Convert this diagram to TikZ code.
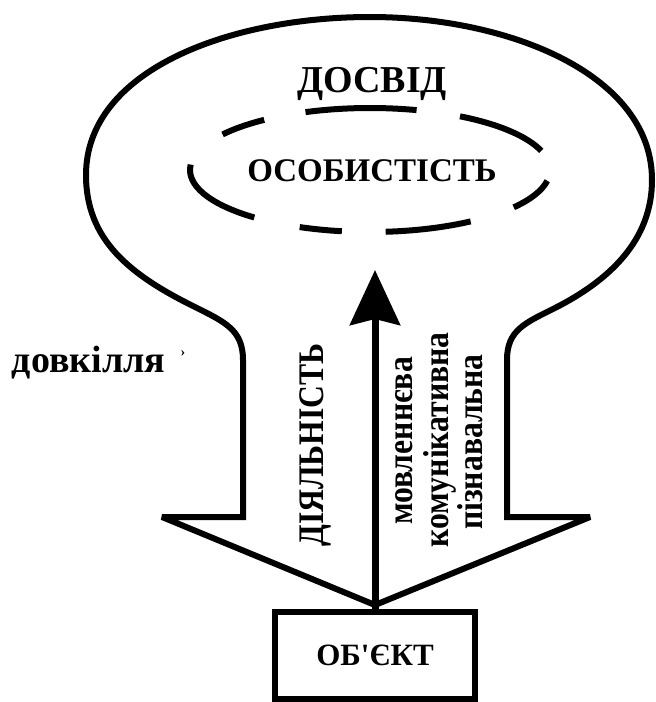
\documentclass[tikz,border=0pt]{standalone}
\usepackage{fontspec}
\setmainfont{Liberation Serif}
\newfontfamily\lsb{Liberation Serif Bold}
\newfontfamily\lsbc{Liberation Serif Bold}[FakeStretch=0.88]
\usetikzlibrary{arrows.meta}
\tikzset{
  outline/.style={line width=6pt},
  dashline/.style={line width=6pt},
  lbl/.style={inner sep=0pt,outer sep=0pt}}
\begin{document}
\begin{tikzpicture}[x=1pt,y=-1pt,line join=miter,miter limit=3]
\useasboundingbox (0,0) rectangle (656,702);
% bulb with fat arrow
\draw[outline] (162,517) -- (243,517) -- (243,360)
  .. controls (243,330) and (225,322) .. (195,307)
  .. controls (130,275) and (86,240) .. (86,175)
  .. controls (86,70) and (230,17) .. (370,17)
  .. controls (510,17) and (652,75) .. (652,180)
  .. controls (652,240) and (610,280) .. (555,308)
  .. controls (525,323) and (507,330) .. (507,360)
  -- (507,517) -- (590,517) -- (375,605) -- cycle;
% dashed ellipse
\foreach \a/\b in {75/111, 18/60, -37/-10, -85/-56, -113/-99, 175/230, 126/145}
  \draw[dashline] (370,170) ++(-\a:180 and 62) arc[start angle=-\a, end angle=-\b, x radius=180, y radius=62];
% texts
\node[lbl,anchor=base,font=\lsb\fontsize{38}{38}\selectfont] (dosvid) at (372,92) {ДОСВІД};
\node[lbl,anchor=base,font=\lsb\fontsize{33}{33}\selectfont] (pers) at (372,181) {ОСОБИСТІСТЬ};
\node[lbl,anchor=base west,font=\lsb\fontsize{38}{38}\selectfont] (env) at (12,372) {довкілля};
\node[lbl,anchor=base,font=\lsb\fontsize{14}{14}\selectfont] (mark) at (183,356) {›};
\node[lbl,rotate=90,anchor=base,font=\lsbc\fontsize{36}{36}\selectfont] (dial) at (323,445) {ДІЯЛЬНІСТЬ};
\node[lbl,rotate=90,anchor=base,font=\lsbc\fontsize{36}{36}\selectfont] (m1) at (412,441) {мовленнєва};
\node[lbl,rotate=90,anchor=base,font=\lsbc\fontsize{36}{36}\selectfont] (m2) at (448,440) {комунікативна};
\node[lbl,rotate=90,anchor=base,font=\lsbc\fontsize{36}{36}\selectfont] (m3) at (482,442) {пізнавальна};
% object box
\node[draw,line width=6pt,minimum width=200pt,minimum height=87pt,inner sep=0pt,
  font=\lsb\fontsize{31}{31}\selectfont] (obj) at (375,655.5) {ОБ'ЄКТ};
\coordinate (tip) at (375,270);
\draw[line width=7pt,-{Stealth[length=55pt,width=50pt,inset=6pt]}] (obj.north) -- (tip);
\end{tikzpicture}
\end{document}
